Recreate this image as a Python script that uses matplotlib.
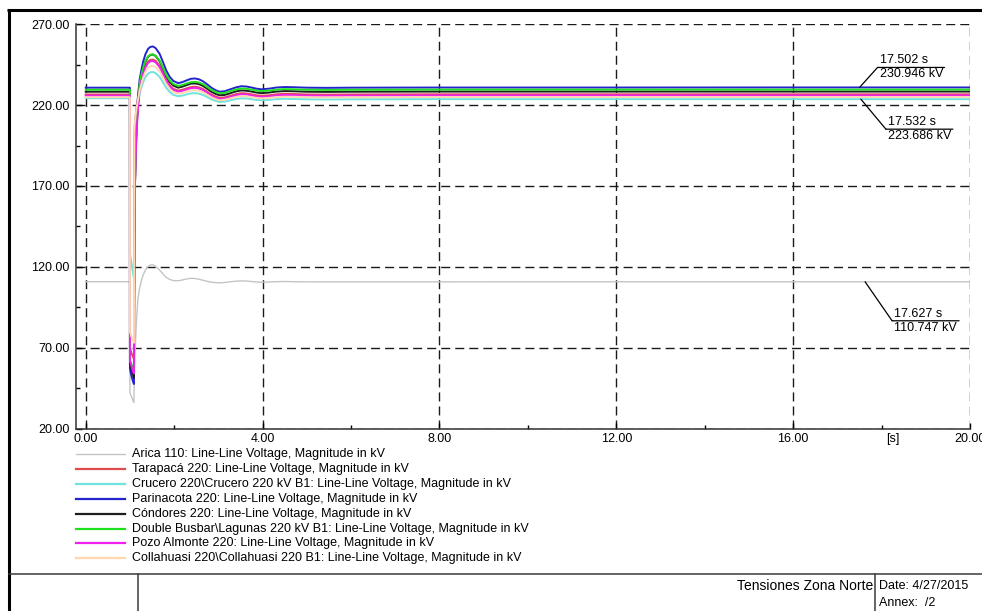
import matplotlib
matplotlib.use("Agg")
import matplotlib.pyplot as plt
from matplotlib.lines import Line2D
from matplotlib.transforms import offset_copy

plt.rcParams['font.family'] = ['Liberation Sans', 'DejaVu Sans']

# ---------------------------------------------------------------- data
# simulation time [s]
t = [0.0, 0.999, 1.0, 1.03, 1.06, 1.09, 1.10, 1.11, 1.13, 1.15, 1.18,
     1.22, 1.26, 1.30, 1.35, 1.41, 1.46, 1.52, 1.58,
     1.67, 1.75, 1.82, 1.90, 1.98,
     2.09, 2.18, 2.28, 2.38, 2.47, 2.56, 2.65, 2.75, 2.84, 2.94,
     3.03, 3.14, 3.26, 3.40, 3.52, 3.64, 3.75, 3.86, 3.97,
     4.15, 4.31, 4.50, 4.69,
     5.0, 5.44, 6.0, 8.0, 12.0, 16.0, 20.0]

# line-line voltage magnitudes [kV]
arica = [110.8, 110.8, 42, 40, 38, 36, 55, 63, 76, 88, 100,
         107, 111.5, 115, 118, 120.2, 121.1, 121.2, 120.3,
         118, 115.5, 113.5, 112.2, 111.5,
         111.4, 111.8, 112.5, 112.9, 112.8, 112.3, 111.7, 111.0, 110.5, 110.2,
         110.1, 110.3, 110.7, 111.1, 111.3, 111.2, 110.9, 110.6, 110.5,
         110.6, 110.8, 110.9, 110.8,
         110.7, 110.7, 110.7, 110.7, 110.75, 110.75, 110.75]

tarapaca = [226.6, 226.6, 70, 67, 65, 63, 200, 208, 214, 219, 224,
            231.0, 236.2, 240.4, 244.2, 247.0, 248.0, 248.2, 247.4,
            244.4, 239.9, 235.6, 232.2, 230.1,
            229.0, 229.5, 230.4, 231.2, 231.4, 231.0, 230.0, 228.3, 226.6, 225.3,
            224.5, 224.8, 225.7, 226.8, 227.4, 227.2, 226.7, 226.1, 225.8,
            226.1, 226.7, 227.0, 226.9,
            226.6, 226.5, 226.6, 226.7, 226.7, 226.7, 226.7]

crucero = [224.3, 224.3, 128, 123, 118, 113, 170, 188, 201, 211, 218,
           227.1, 231.0, 234.3, 237.3, 239.5, 240.3, 240.5, 239.8,
           237.5, 234.0, 230.7, 228.1, 226.4,
           225.5, 225.9, 226.6, 227.3, 227.4, 227.1, 226.3, 225.0, 223.6, 222.6,
           222.0, 222.2, 222.9, 223.8, 224.2, 224.1, 223.7, 223.2, 223.0,
           223.2, 223.7, 223.9, 223.8,
           223.6, 223.5, 223.6, 223.7, 223.7, 223.69, 223.69]

parinacota = [230.8, 230.8, 57, 53, 50, 47.5, 140, 168, 192, 210, 225,
              236.0, 242.0, 247.0, 251.5, 254.8, 256.0, 256.3, 255.3,
              251.8, 246.5, 241.5, 237.5, 235.0,
              233.6, 234.2, 235.3, 236.3, 236.5, 236.0, 234.8, 232.8, 230.8, 229.2,
              228.3, 228.6, 229.7, 231.0, 231.7, 231.5, 230.9, 230.2, 229.8,
              230.2, 230.9, 231.2, 231.1,
              230.8, 230.7, 230.8, 230.9, 230.9, 230.95, 230.95]

condores = [228.3, 228.3, 60, 57, 54, 51.5, 140, 166, 190, 206, 220,
            233.0, 238.4, 242.9, 246.9, 249.9, 251.0, 251.3, 250.4,
            247.2, 242.4, 237.9, 234.3, 232.1,
            230.8, 231.4, 232.4, 233.3, 233.4, 233.0, 231.9, 230.1, 228.3, 226.9,
            226.1, 226.3, 227.3, 228.5, 229.1, 228.9, 228.4, 227.8, 227.4,
            227.8, 228.4, 228.7, 228.6,
            228.3, 228.2, 228.3, 228.4, 228.4, 228.4, 228.4]

lagunas = [229.5, 229.5, 62, 60, 58, 56, 142, 168, 191, 207, 221,
           234.0, 239.1, 243.4, 247.3, 250.2, 251.2, 251.4, 250.6,
           247.6, 243.0, 238.7, 235.3, 233.1,
           231.9, 232.4, 233.4, 234.2, 234.4, 234.0, 233.0, 231.2, 229.5, 228.1,
           227.4, 227.6, 228.6, 229.7, 230.3, 230.1, 229.6, 229.0, 228.7,
           229.0, 229.6, 229.9, 229.8,
           229.5, 229.4, 229.5, 229.6, 229.6, 229.6, 229.6]

pozo_almonte = [225.9, 225.9, 62, 59, 56, 54, 143, 166, 188, 203, 217,
                230.3, 235.3, 239.5, 243.3, 246.1, 247.1, 247.3, 246.5,
                243.6, 239.1, 234.9, 231.5, 229.4,
                228.3, 228.8, 229.7, 230.5, 230.7, 230.3, 229.3, 227.6, 225.9, 224.6,
                223.8, 224.1, 225.0, 226.1, 226.7, 226.5, 226.0, 225.4, 225.1,
                225.4, 226.0, 226.3, 226.2,
                225.9, 225.8, 225.9, 226.0, 226.0, 226.0, 226.0]

collahuasi = [224.9, 224.9, 80, 77, 75, 73, 202, 209, 214, 218, 223,
              228.9, 233.4, 237.2, 240.7, 243.2, 244.1, 244.3, 243.5,
              240.9, 236.9, 233.1, 230.0, 228.1,
              227.1, 227.5, 228.3, 229.1, 229.3, 228.9, 228.0, 226.4, 224.9, 223.7,
              223.0, 223.3, 224.1, 225.1, 225.6, 225.5, 225.0, 224.5, 224.2,
              224.5, 225.0, 225.2, 225.2,
              224.9, 224.8, 224.9, 225.0, 225.0, 225.0, 225.0]

series = [arica, tarapaca, crucero, parinacota, condores, lagunas,
          pozo_almonte, collahuasi]
labels = [
    "Arica 110: Line-Line Voltage, Magnitude in kV",
    "Tarapacá 220: Line-Line Voltage, Magnitude in kV",
    "Crucero 220\\Crucero 220 kV B1: Line-Line Voltage, Magnitude in kV",
    "Parinacota 220: Line-Line Voltage, Magnitude in kV",
    "Cóndores 220: Line-Line Voltage, Magnitude in kV",
    "Double Busbar\\Lagunas 220 kV B1: Line-Line Voltage, Magnitude in kV",
    "Pozo Almonte 220: Line-Line Voltage, Magnitude in kV",
    "Collahuasi 220\\Collahuasi 220 B1: Line-Line Voltage, Magnitude in kV",
]
colors = ['#c4c4c4', '#dd4c4c', '#6fe3dc', '#2424cc', '#1e1e1e',
          '#1fe01f', '#f020f0', '#ffd8b0']

x_ticks = [0, 4, 8, 12, 16, 20]
x_tick_labels = ["0.00", "4.00", "8.00", "12.00", "16.00", "20.00"]
x_minor = [2, 6, 10, 14, 18]
y_ticks = [20, 70, 120, 170, 220, 270]
y_tick_labels = ["20.00", "70.00", "120.00", "170.00", "220.00", "270.00"]
y_minor = [45, 95, 145, 195, 245]

# cursor readouts: (time [s], value [kV])
readouts = [(17.502, 230.946), (17.532, 223.686), (17.627, 110.747)]

# ---------------------------------------------------------------- figure
W, H = 982, 611
fig = plt.figure(figsize=(W / 100, H / 100), dpi=100)
fig.patch.set_facecolor('white')


def fx(px):
    return px / W


def fy(py):
    return 1 - py / H


ax = fig.add_axes([fx(76), fy(428.5), fx(970) - fx(76), fy(24.3) - fy(428.5)])

for vals, col in zip(series, colors):
    lw = 1.0 if col == colors[0] else 1.4
    ax.plot(t, vals, color=col, lw=lw, solid_joinstyle='round')

ax.set_xlim(-0.22, 20)
ax.set_ylim(20, 270)
ax.set_xticks(x_ticks)
ax.set_xticklabels(x_tick_labels)
ax.set_xticks(x_minor, minor=True)
ax.set_yticks(y_ticks)
ax.set_yticklabels(y_tick_labels)
ax.set_yticks(y_minor, minor=True)

ax.grid(True, which='major', color='#1a1a1a', lw=1.0, ls=(0, (6.5, 3.6)))
ax.tick_params(which='major', direction='in', length=4, width=1.0,
               labelsize=9, colors='black')
ax.tick_params(axis='y', which='major', pad=4.8)
ax.tick_params(axis='x', which='major', pad=3)
ax.tick_params(which='minor', direction='in', length=3, width=1.0)
for side in ('top', 'right'):
    ax.spines[side].set_visible(False)
for side in ('left', 'bottom'):
    ax.spines[side].set_linewidth(1.1)
    ax.spines[side].set_color('#333333')

ax.annotate("[s]", xy=(18.26, 0), xycoords=('data', 'axes fraction'),
            xytext=(0, -3), textcoords='offset points',
            ha='center', va='top', fontsize=9)

# cursor readouts with leader line and fraction-style bar
offsets = [(18, 20), (25, -30), (27, -39)]
bar_w = 67
for (tv, vv), (dx, dy) in zip(readouts, offsets):
    p0 = offset_copy(ax.transData, fig=fig, x=dx, y=dy, units='dots')
    p1 = offset_copy(ax.transData, fig=fig, x=dx + bar_w, y=dy, units='dots')
    arrow = dict(arrowstyle='-', lw=0.9, color='black', shrinkA=0, shrinkB=0)
    ax.annotate('', xy=(tv, vv), xytext=(tv, vv), textcoords=p0,
                arrowprops=arrow)
    ax.annotate('', xy=(tv, vv), xycoords=p1, xytext=(tv, vv),
                textcoords=p0, arrowprops=arrow)
    ax.annotate(f"{tv:.3f} s", xy=(tv, vv), xytext=(dx + 2, dy + 1),
                textcoords='offset pixels', ha='left', va='bottom',
                fontsize=9)
    ax.annotate(f"{vv:.3f} kV", xy=(tv, vv), xytext=(dx + 2, dy - 1),
                textcoords='offset pixels', ha='left', va='top',
                fontsize=9)

# legend drawn below the plot
for i, (lab, col) in enumerate(zip(labels, colors)):
    yy = 454.3 + i * 14.85
    fig.add_artist(Line2D([fx(76), fx(125)], [fy(yy), fy(yy)],
                          color=col, lw=1.0 if i == 0 else 1.6))
    fig.text(fx(132.5), fy(yy), lab, ha='left', va='center', fontsize=9)

# page frame and title block
frame_kw = dict(color='black', lw=2.2, solid_capstyle='butt')
fig.add_artist(Line2D([fx(7), fx(982)], [fy(10), fy(10)], **frame_kw))
fig.add_artist(Line2D([fx(8.5), fx(8.5)], [fy(8.5), fy(611)], **frame_kw))
blk_kw = dict(color='#3a3a3a', lw=1.1)
fig.add_artist(Line2D([fx(9), fx(982)], [fy(574.3), fy(574.3)], **blk_kw))
fig.add_artist(Line2D([fx(138), fx(138)], [fy(574.3), fy(611)], **blk_kw))
fig.add_artist(Line2D([fx(875), fx(875)], [fy(574.3), fy(611)], **blk_kw))
fig.text(fx(873), fy(586), "Tensiones Zona Norte", ha='right', va='center',
         fontsize=10)
fig.text(fx(879), fy(586), "Date: 4/27/2015", ha='left', va='center',
         fontsize=9)
fig.text(fx(879), fy(602.5), "Annex:  /2", ha='left', va='center',
         fontsize=9)

fig.savefig("out.png", dpi=100, facecolor='white')
